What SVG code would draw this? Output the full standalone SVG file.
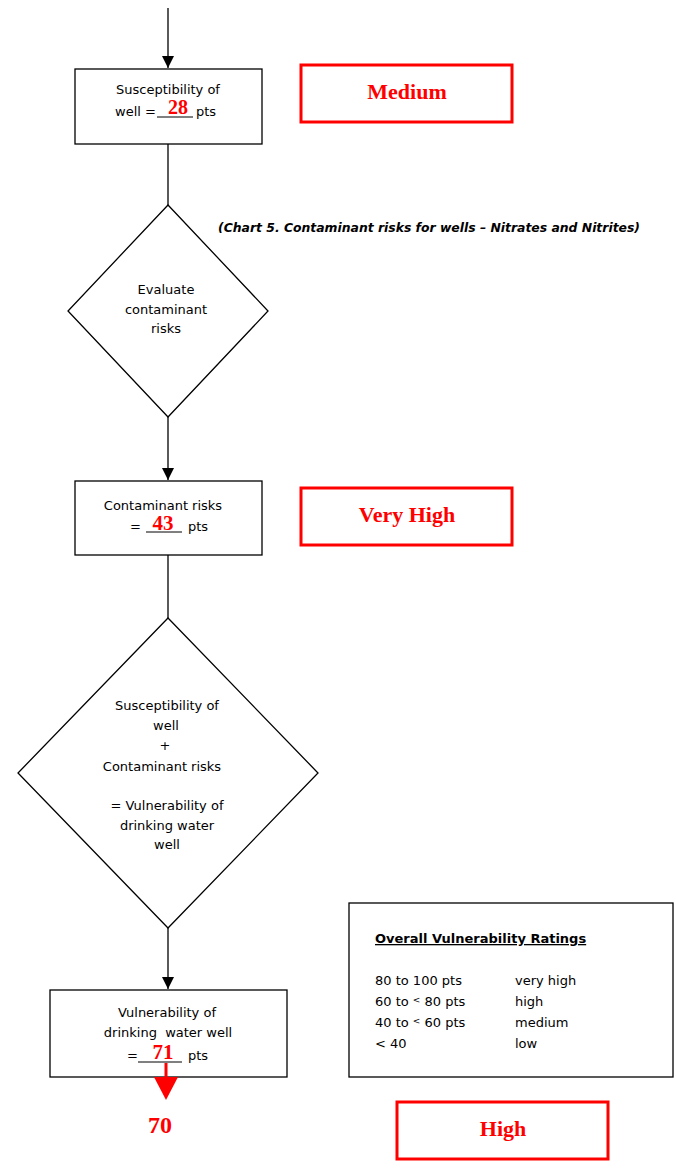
<svg xmlns="http://www.w3.org/2000/svg" width="676" height="1168" viewBox="0 0 676 1168">
<defs>
<style>
.box{fill:#fff;stroke:#000;stroke-width:1.3}
.rbox{fill:#fff;stroke:#ff0000;stroke-width:3}
.t{font-family:"DejaVu Sans","Liberation Sans",sans-serif;font-size:13px;fill:#000}
.c{text-anchor:middle}
.r{font-family:"Liberation Serif",serif;font-weight:bold;fill:#ff0000;text-anchor:middle}
.ln{stroke:#000;stroke-width:1.3;fill:none}
.blank{stroke:#000;stroke-width:1}
</style>
<marker id="ah" markerWidth="12" markerHeight="12" refX="10" refY="5" orient="auto" markerUnits="userSpaceOnUse" viewBox="0 0 10 10">
<path d="M0,0 L10,5 L0,10 z" fill="#000"/>
</marker>
</defs>
<rect width="676" height="1168" fill="#fff"/>
<g id="connectors">
<line class="ln" x1="168" y1="8" x2="168" y2="68" marker-end="url(#ah)"/>
<line class="ln" x1="168" y1="144" x2="168" y2="205"/>
<line class="ln" x1="168" y1="417" x2="168" y2="480" marker-end="url(#ah)"/>
<line class="ln" x1="168" y1="555" x2="168" y2="618"/>
<line class="ln" x1="168" y1="928" x2="168" y2="989" marker-end="url(#ah)"/>
</g>
<g id="node-susceptibility">
<rect class="box" x="75" y="69" width="187" height="75"/>
<text class="t c" x="168" y="94">Susceptibility of</text>
<text class="t" x="115" y="116">well =</text>
<line class="blank" x1="157" y1="117" x2="193" y2="117"/>
<text class="t" x="196" y="116">pts</text>
<text class="r" x="178" y="114" font-size="20">28</text>
</g>
<g id="node-medium">
<rect class="rbox" x="301" y="65" width="211" height="57"/>
<text class="r" x="407" y="99" font-size="22">Medium</text>
</g>
<text id="caption" x="218" y="232" font-family="DejaVu Sans,Liberation Sans,sans-serif" font-size="12" font-weight="bold" font-style="italic" textLength="422" lengthAdjust="spacingAndGlyphs">(Chart 5. Contaminant risks for wells – Nitrates and Nitrites)</text>
<g id="node-evaluate">
<polygon class="box" points="168,205 268,311 168,417 68,311"/>
<text class="t c" x="166" y="294">Evaluate</text>
<text class="t c" x="166" y="314">contaminant</text>
<text class="t c" x="166" y="333">risks</text>
</g>
<g id="node-contaminant">
<rect class="box" x="75" y="481" width="187" height="74"/>
<text class="t c" x="163" y="510">Contaminant risks</text>
<text class="t" x="130" y="531">=</text>
<line class="blank" x1="146" y1="532" x2="182" y2="532"/>
<text class="t" x="188" y="531">pts</text>
<text class="r" x="163" y="530" font-size="21">43</text>
</g>
<g id="node-veryhigh">
<rect class="rbox" x="301" y="488" width="211" height="57"/>
<text class="r" x="407" y="522" font-size="22">Very High</text>
</g>
<g id="node-sum">
<polygon class="box" points="168,618 318,773 168,928 18,773"/>
<text class="t c" x="167" y="710">Susceptibility of</text>
<text class="t c" x="166" y="730">well</text>
<text class="t c" x="165" y="750" font-size="10">+</text>
<text class="t c" x="162" y="771">Contaminant risks</text>
<text class="t c" x="167" y="810">= Vulnerability of</text>
<text class="t c" x="167" y="830">drinking water</text>
<text class="t c" x="167" y="849">well</text>
</g>
<g id="node-vulnerability">
<rect class="box" x="50" y="990" width="237" height="87"/>
<text class="t c" x="167" y="1017">Vulnerability of</text>
<text class="t c" x="168" y="1037" xml:space="preserve">drinking  water well</text>
<text class="t" x="127" y="1060">=</text>
<line class="blank" x1="138" y1="1062" x2="182" y2="1062"/>
<text class="t" x="188" y="1060">pts</text>
<text class="r" x="163" y="1059" font-size="21">71</text>
</g>
<g id="result-arrow">
<line x1="166" y1="1063" x2="166" y2="1080" stroke="#ff0000" stroke-width="3"/>
<polygon points="154,1077 178,1077 166,1100" fill="#ff0000"/>
</g>
<text id="result-70" class="r" x="160" y="1133" font-size="24">70</text>
<g id="node-ratings">
<rect class="box" x="349" y="903" width="324" height="174"/>
<text class="t" x="375" y="943" font-weight="bold" font-size="12" text-decoration="underline">Overall Vulnerability Ratings</text>
<text class="t" x="375" y="985">80 to 100 pts</text>
<text class="t" x="515" y="985">very high</text>
<text class="t" x="375" y="1006">60 to <tspan font-size="9" dy="-3">&lt;</tspan><tspan dy="3"> 80 pts</tspan></text>
<text class="t" x="515" y="1006">high</text>
<text class="t" x="375" y="1027">40 to <tspan font-size="9" dy="-3">&lt;</tspan><tspan dy="3"> 60 pts</tspan></text>
<text class="t" x="515" y="1027">medium</text>
<text class="t" x="375" y="1048">&lt; 40</text>
<text class="t" x="515" y="1048">low</text>
</g>
<g id="node-high">
<rect class="rbox" x="397" y="1102" width="211" height="57"/>
<text class="r" x="503" y="1136" font-size="22">High</text>
</g>
</svg>
